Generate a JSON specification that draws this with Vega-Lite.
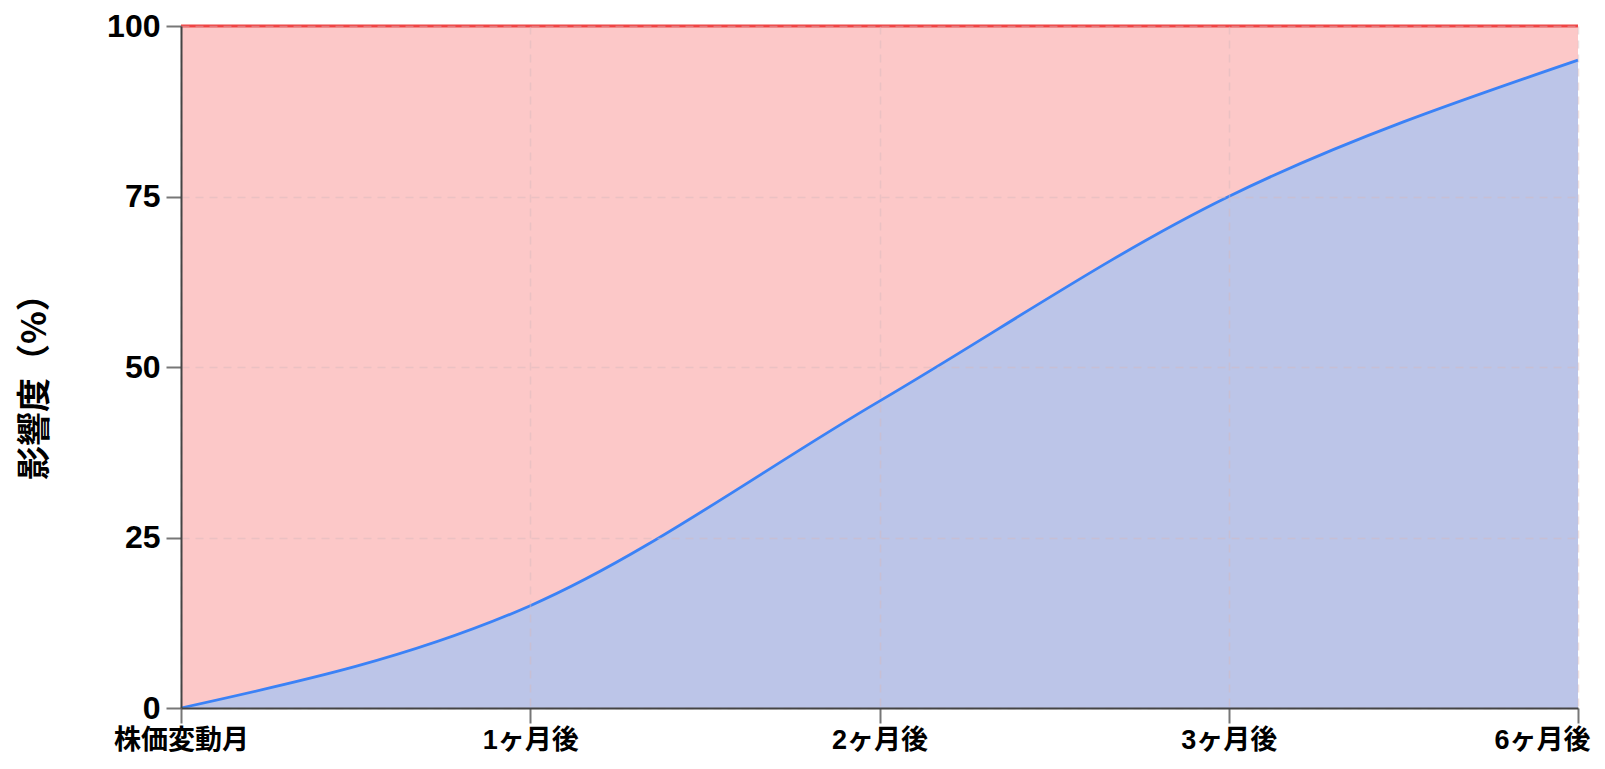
{
  "$schema": "https://vega.github.io/schema/vega-lite/v6.json",
  "width": 1397,
  "height": 682,
  "autosize": "none",
  "padding": {"left": 181, "top": 26, "right": 27, "bottom": 61},
  "background": "white",
  "config": {
    "view": {"stroke": null},
    "font": "Liberation Sans, Noto Sans CJK JP, sans-serif"
  },
  "data": {
    "values": [
      {"period": "株価変動月", "impact": 0, "total": 100},
      {"period": "1ヶ月後", "impact": 15, "total": 100},
      {"period": "2ヶ月後", "impact": 45, "total": 100},
      {"period": "3ヶ月後", "impact": 75, "total": 100},
      {"period": "6ヶ月後", "impact": 95, "total": 100}
    ]
  },
  "encoding": {
    "x": {
      "field": "period",
      "type": "ordinal",
      "sort": null,
      "scale": {"type": "point", "padding": 0},
      "axis": {
        "title": null,
        "labelAngle": 0,
        "labelFont": "Liberation Sans, Noto Sans CJK JP",
        "labelFontSize": 27,
        "labelFontWeight": "bold",
        "labelColor": "#000",
        "labelPadding": 4,
        "labelAlign": {"condition": {"test": "datum.value === '6ヶ月後'", "value": "right"}, "value": "center"},
        "labelOffset": {"condition": {"test": "datum.value === '6ヶ月後'", "value": 12}, "value": 0},
        "labelBound": false,
        "tickSize": 15,
        "tickColor": "#777",
        "tickWidth": 2,
        "domainColor": "#444",
        "domainWidth": 2,
        "grid": true,
        "gridColor": "#d8b8bc",
        "gridOpacity": 0.45,
        "gridDash": [8, 6],
        "gridWidth": 1.5,
        "zindex": 1
      }
    }
  },
  "layer": [
    {
      "mark": {"type": "area", "color": "#fcc8c8", "opacity": 1},
      "encoding": {
        "y": {
          "field": "total",
          "type": "quantitative",
          "scale": {"domain": [0, 100]},
          "axis": {
            "values": [0, 25, 50, 75, 100],
            "title": "影響度（%）",
            "titleFont": "Noto Sans CJK JP",
            "titleFontSize": 34,
            "titleFontWeight": "bold",
            "titleColor": "#000",
            "titleX": -146,
            "titleY": 352,
            "titleAngle": -90,
            "titleAlign": "center",
            "titleBaseline": "middle",
            "labelFont": "Liberation Sans",
            "labelFontSize": 32,
            "labelFontWeight": "bold",
            "labelColor": "#000",
            "labelPadding": 6,
            "tickSize": 15,
            "tickColor": "#777",
            "tickWidth": 2,
            "domainColor": "#444",
            "domainWidth": 2,
            "gridColor": "#d8b8bc",
            "gridOpacity": 0.45,
            "gridDash": [8, 6],
            "gridWidth": 1.5,
            "zindex": 1
          }
        }
      }
    },
    {
      "mark": {"type": "line", "color": "#ef4444", "strokeWidth": 3},
      "encoding": {"y": {"field": "total", "type": "quantitative"}}
    },
    {
      "mark": {"type": "area", "color": "#bcc5e8", "opacity": 1, "interpolate": "monotone"},
      "encoding": {"y": {"field": "impact", "type": "quantitative"}}
    },
    {
      "mark": {"type": "line", "color": "#3b82f6", "strokeWidth": 2.8, "interpolate": "monotone"},
      "encoding": {"y": {"field": "impact", "type": "quantitative"}}
    }
  ]
}
